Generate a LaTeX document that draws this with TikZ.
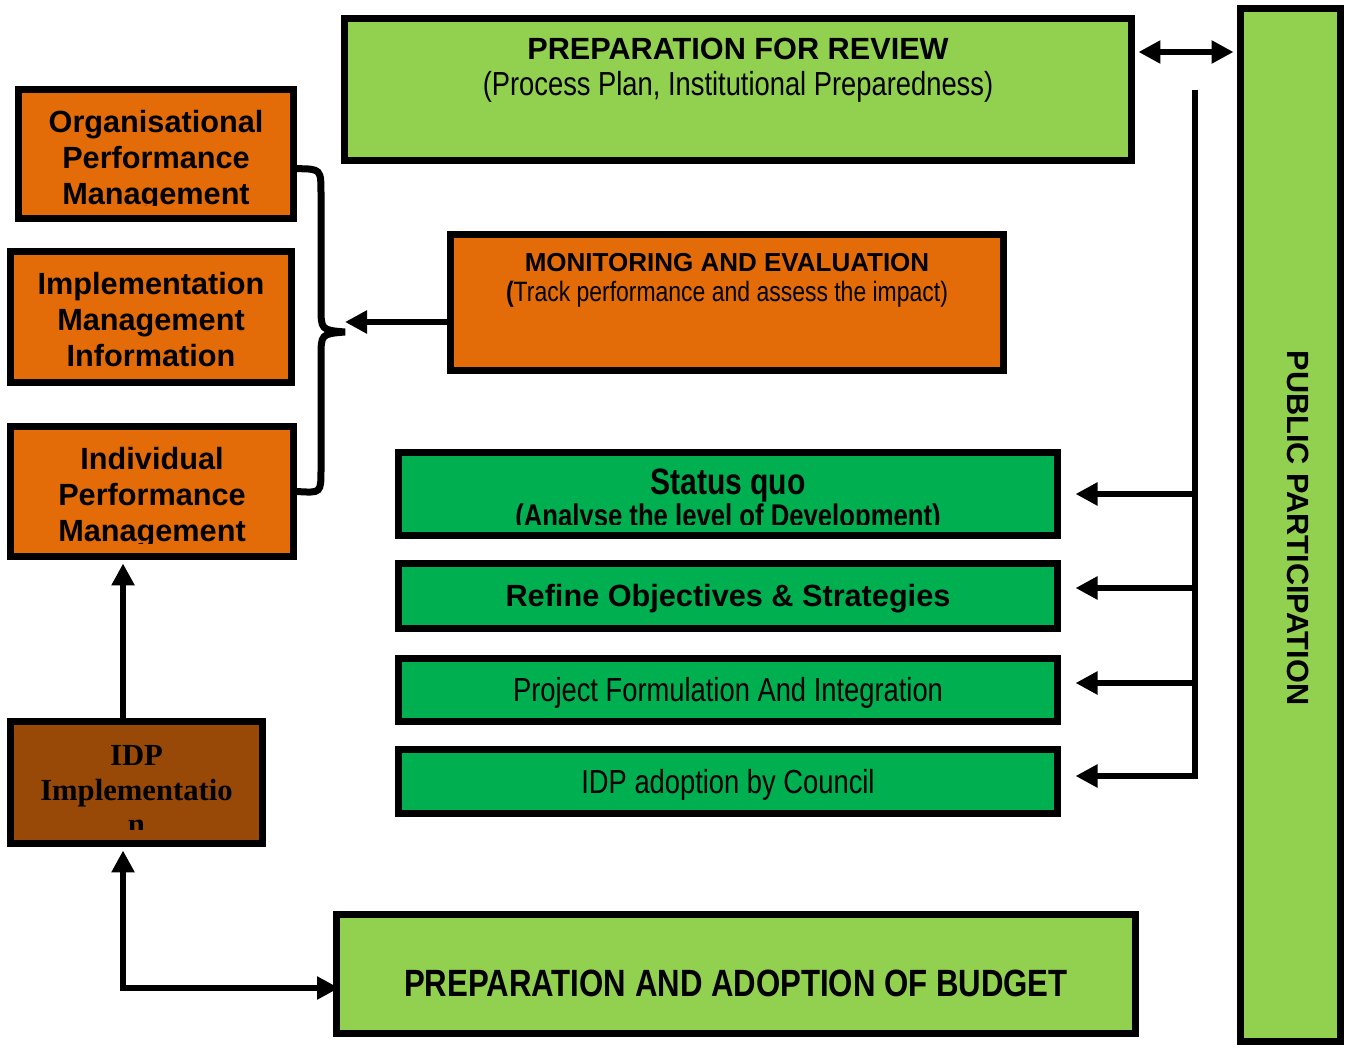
\documentclass[tikz,border=0pt]{standalone}
\usepackage{fontspec}
\setmainfont{Liberation Sans}
\newfontfamily\narrowfont[FakeStretch=0.82]{Liberation Sans}
\newfontfamily\timesfont{Liberation Serif}
\usetikzlibrary{arrows.meta}
\definecolor{leaf}{HTML}{92D050}
\definecolor{grass}{HTML}{00B050}
\definecolor{rust}{HTML}{E36C09}
\definecolor{bark}{HTML}{984807}
\newcommand{\lowered}[1]{\raisebox{-2.25pt}[\height][\depth]{#1}}

\begin{document}
\begin{tikzpicture}[x=0.75pt,y=-0.75pt,
                    stage/.style 2 args={draw=black, line width=5.25pt,
                                         inner sep=0pt, align=center,
                                         minimum width=#1*0.75pt,
                                         minimum height=#2*0.75pt},
                    wide/.style={align=center, font=\bfseries\fontsize{23}{27}\selectfont},
                    slim/.style={font=\narrowfont\fontsize{25}{30}\selectfont},
                    link/.style={line width=4.5pt, -{Triangle[length=16.5pt,width=16.5pt]}},
                    duo/.style={line width=4.5pt, {Triangle[length=16.5pt,width=16.5pt]}-{Triangle[length=16.5pt,width=16.5pt]}}]

\useasboundingbox (0,0) rectangle (1347,1045);

% boxes
\node[stage={787}{142}, fill=leaf] (review) at (738,89.5) {};
\node[wide] (reviewhead) at (738,49) {PREPARATION FOR REVIEW};
\node[slim] (reviewsub) at (738,87) {(Process Plan, Institutional Preparedness)};

\node[stage={100}{1033}, fill=leaf] (public) at (1290.5,525) {};
\node[wide] (publictext) at (1298,528) {\rotatebox{-90}{PUBLIC PARTICIPATION}};

\node[stage={275}{129}, fill=rust] (opm) at (156,154) {};
\node[stage={281}{131}, fill=rust] (imi) at (151,317) {};
\node[stage={283}{130}, fill=rust] (ipm) at (152,491.5) {};
\begin{scope}
  \clip (0,0) rectangle (300,206);
  \node[wide] (opmtext) at (156,161) {Organisational\\Performance\\Management};
\end{scope}
\node[wide] (imitext) at (151,320) {Implementation\\Management\\Information};
\begin{scope}
  \clip (0,400) rectangle (300,543);
  \node[wide] (ipmtext) at (152,498) {Individual\\Performance\\Management};
\end{scope}

\node[stage={553}{136}, fill=rust] (mande) at (727,302.5) {};
\node[font=\bfseries\fontsize{19.5}{23}\selectfont] (mandehead) at (727,263) {MONITORING AND EVALUATION};
\node[font=\narrowfont\fontsize{21}{25}\selectfont] (mandesub) at (727,294) {{\bfseries(}Track performance and assess the impact)};

\node[stage={659}{83}, fill=grass] (status) at (728,494) {};
\begin{scope}
  \clip (400,455) rectangle (1055,524);
  \node[align=center, font=\narrowfont\bfseries\fontsize{27.5}{24}\selectfont] (statustext) at (728,501)
       {Status quo\\{\fontsize{23.5}{24}\selectfont(Analyse the level of Development)}};
\end{scope}
\node[stage={659}{65}, fill=grass, wide] (refine) at (728,596) {\lowered{Refine Objectives \& Strategies}};
\node[stage={659}{63}, fill=grass, slim] (project) at (728,690) {\lowered{Project Formulation And Integration}};
\node[stage={659}{64}, fill=grass, slim] (adopt) at (728,781.5) {\lowered{IDP adoption by Council}};

\node[stage={252}{122}, fill=bark] (impl) at (136.5,782.5) {};
\begin{scope}
  \clip (0,700) rectangle (270,829);
  \node[align=center, font=\timesfont\bfseries\fontsize{23}{26}\selectfont] (impltext) at (136.5,790)
       {IDP\\Implementatio\\n};
\end{scope}

\node[stage={799}{119}, fill=leaf] (budget) at (736,974) {};
\node[font=\narrowfont\bfseries\fontsize{28.5}{30}\selectfont] (budgettext) at (736,983) {PREPARATION AND ADOPTION OF BUDGET};

% brace and connectors
\coordinate (point) at (345,332);
\draw[line width=5.25pt] ([yshift=-11pt]opm.east) .. controls (321,169) .. (321,194) -- (321,306)
     .. controls (321,330) .. (point) .. controls (321,334) .. (321,358) -- (321,470)
     .. controls (321,493) .. (ipm.east);
\coordinate (catch) at (345,322);
\draw[link] (catch -| mande.west) -- (catch);

\coordinate (sync) at (1186,52);
\draw[duo, shorten <=2.6pt, shorten >=2.6pt] (sync -| review.east) -- (sync -| public.west);

\coordinate (bus) at (1195,90);
\draw[line width=4.5pt] (bus) -- (1195,779);
\foreach \tgt/\row in {status/494, refine/588, project/683, adopt/776}
  \draw[link, shorten >=10.9pt] (bus |- 0,\row) -- (\tgt.east |- 0,\row);

\coordinate (rise) at ([xshift=-10.1pt]impl.north);
\draw[link, shorten >=2.6pt] (rise) -- (rise |- ipm.south);
\coordinate (drop) at ([xshift=-10.1pt]impl.south);
\draw[duo, shorten <=2.6pt, shorten >=-4.5pt] (drop) |- ([yshift=-10.5pt]budget.west);
\end{tikzpicture}
\end{document}
